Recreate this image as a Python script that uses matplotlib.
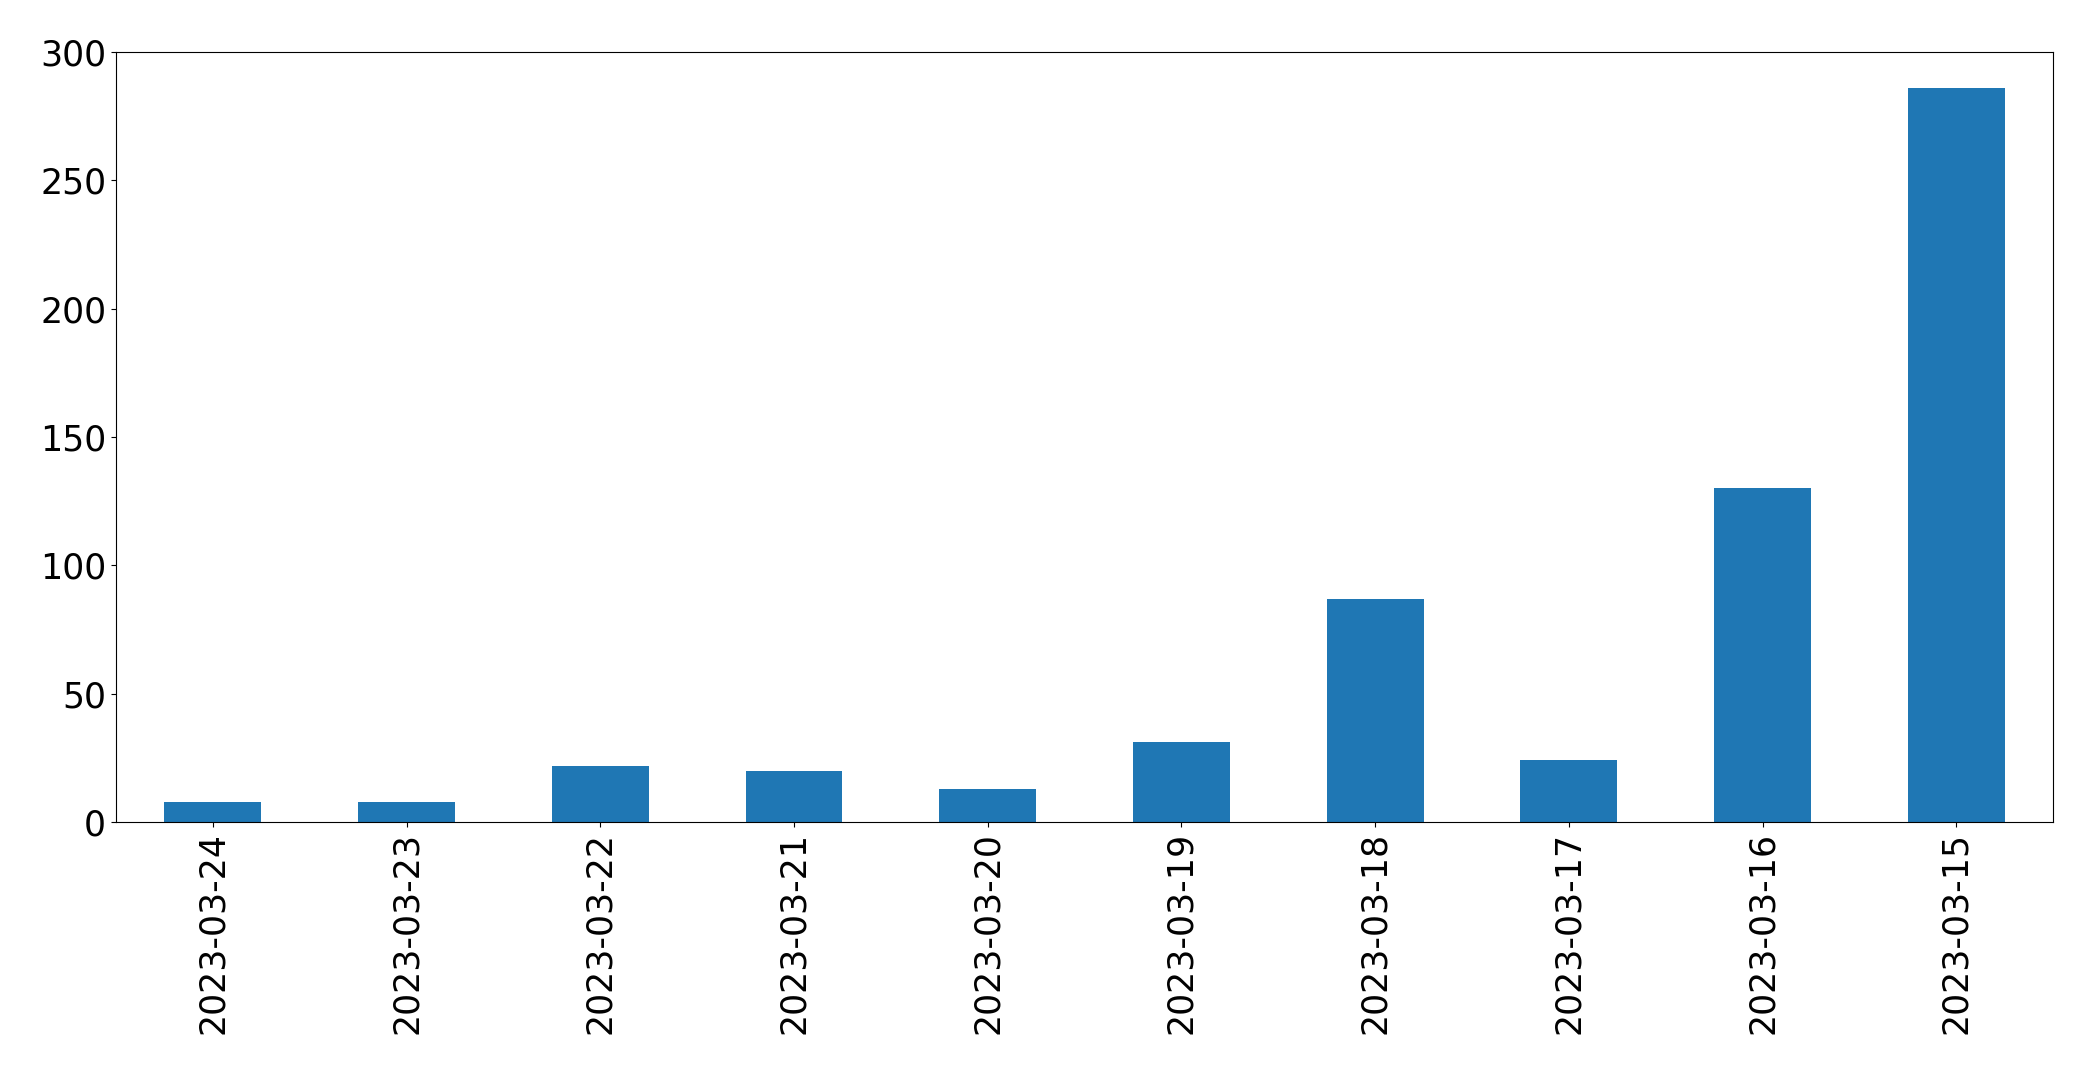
import numpy as np
import matplotlib
matplotlib.use("Agg")
import matplotlib.pyplot as plt

dates = ["2023-03-24", "2023-03-23", "2023-03-22", "2023-03-21", "2023-03-20",
         "2023-03-19", "2023-03-18", "2023-03-17", "2023-03-16", "2023-03-15"]
counts = [8, 8, 22, 20, 13, 31, 87, 24, 130, 286]

fig = plt.figure(figsize=(20.93, 10.74), dpi=100)
ax = fig.add_axes([0.0554, 0.2346, 0.9256, 0.717])

x = np.arange(len(dates))
ax.bar(x, counts, width=0.5, color="#1f77b4")
ax.set_xlim(-0.5, len(dates) - 0.5)
ax.set_ylim(0, 300)
ax.set_xticks(x)
ax.set_xticklabels(dates, rotation=90, fontsize=25)
ax.tick_params(axis="y", labelsize=25)

fig.savefig("out.png", dpi=100)
